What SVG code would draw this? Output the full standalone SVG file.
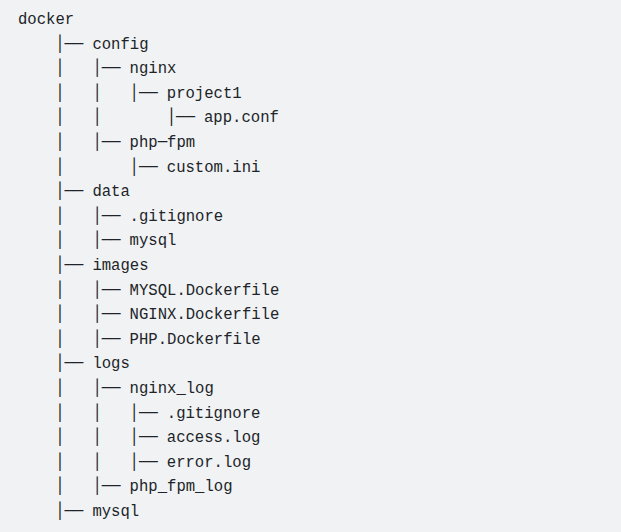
<svg xmlns="http://www.w3.org/2000/svg" width="621" height="532" viewBox="0 0 621 532">
<style>
  text { font-family: "Liberation Mono", "DejaVu Sans Mono", monospace; font-size: 15.6px; fill: #202428; }
  .c { font-family: "DejaVu Sans Mono", "Liberation Mono", monospace; }
</style>
<rect x="0" y="0" width="621" height="532" fill="#f1f2f4"/>
<g id="connectors">
  <text class="c" x="55.2 64.5 73.8" y="48.6">│──</text>
  <text class="c" x="55.2 92.4 101.7 111" y="73.2">││──</text>
  <text class="c" x="55.2 92.4 129.6 138.9 148.2" y="97.8">│││──</text>
  <text class="c" x="55.2 92.4 166.8 176.1 185.4" y="122.4">│││──</text>
  <text class="c" x="55.2 92.4 101.7 111" y="147">││──</text>
  <text class="c" x="55.2 129.6 138.9 148.2" y="171.6">││──</text>
  <text class="c" x="55.2 64.5 73.8" y="196.2">│──</text>
  <text class="c" x="55.2 92.4 101.7 111" y="220.8">││──</text>
  <text class="c" x="55.2 92.4 101.7 111" y="245.4">││──</text>
  <text class="c" x="55.2 64.5 73.8" y="270">│──</text>
  <text class="c" x="55.2 92.4 101.7 111" y="294.6">││──</text>
  <text class="c" x="55.2 92.4 101.7 111" y="319.2">││──</text>
  <text class="c" x="55.2 92.4 101.7 111" y="343.8">││──</text>
  <text class="c" x="55.2 64.5 73.8" y="368.4">│──</text>
  <text class="c" x="55.2 92.4 101.7 111" y="393">││──</text>
  <text class="c" x="55.2 92.4 129.6 138.9 148.2" y="417.6">│││──</text>
  <text class="c" x="55.2 92.4 129.6 138.9 148.2" y="442.2">│││──</text>
  <text class="c" x="55.2 92.4 129.6 138.9 148.2" y="466.8">│││──</text>
  <text class="c" x="55.2 92.4 101.7 111" y="491.4">││──</text>
  <text class="c" x="55.2 64.5 73.8" y="516">│──</text>
</g>
<g id="docker"><text x="18" y="24">docker</text></g>
<g id="config"><text x="92.4" y="48.6">config</text></g>
<g id="nginx"><text x="129.6" y="73.2">nginx</text></g>
<g id="project1"><text x="166.8" y="97.8">project1</text></g>
<g id="app-conf"><text x="204" y="122.4">app.conf</text></g>
<g id="php-fpm"><text x="129.6" y="147">php<tspan class="c">─</tspan>fpm</text></g>
<g id="custom-ini"><text x="166.8" y="171.6">custom.ini</text></g>
<g id="data"><text x="92.4" y="196.2">data</text></g>
<g id="data-gitignore"><text x="129.6" y="220.8">.gitignore</text></g>
<g id="data-mysql"><text x="129.6" y="245.4">mysql</text></g>
<g id="images"><text x="92.4" y="270">images</text></g>
<g id="mysql-dockerfile"><text x="129.6" y="294.6">MYSQL.Dockerfile</text></g>
<g id="nginx-dockerfile"><text x="129.6" y="319.2">NGINX.Dockerfile</text></g>
<g id="php-dockerfile"><text x="129.6" y="343.8">PHP.Dockerfile</text></g>
<g id="logs"><text x="92.4" y="368.4">logs</text></g>
<g id="nginx-log"><text x="129.6" y="393">nginx_log</text></g>
<g id="log-gitignore"><text x="166.8" y="417.6">.gitignore</text></g>
<g id="access-log"><text x="166.8" y="442.2">access.log</text></g>
<g id="error-log"><text x="166.8" y="466.8">error.log</text></g>
<g id="php-fpm-log"><text x="129.6" y="491.4">php_fpm_log</text></g>
<g id="mysql"><text x="92.4" y="516">mysql</text></g>
</svg>
